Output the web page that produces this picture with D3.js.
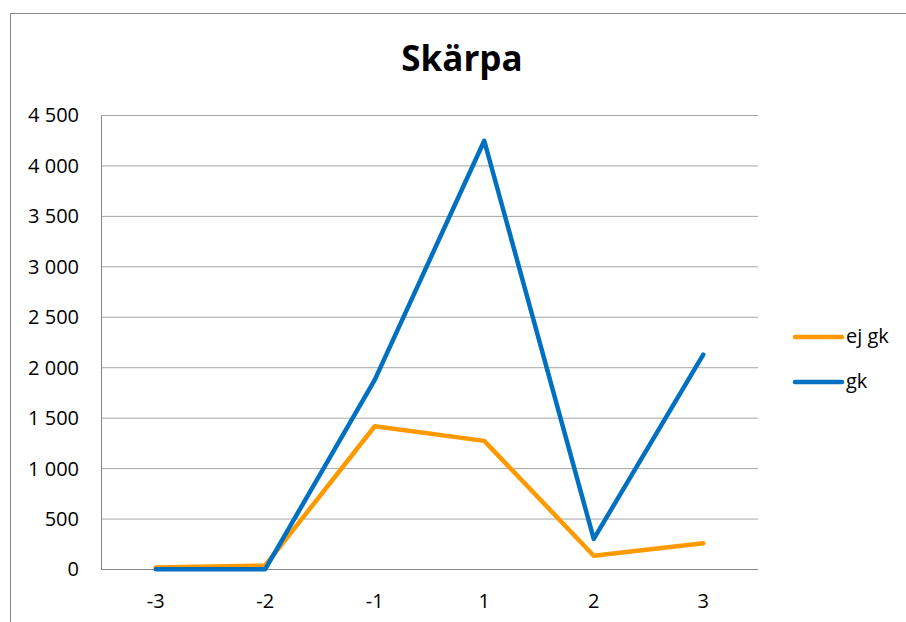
<!DOCTYPE html>
<html><head><meta charset="utf-8">
<script src="https://cdn.jsdelivr.net/npm/d3@7"></script>
<style>body{margin:0;background:#fff}svg{display:block}</style>
</head><body>
<script>
const categories = ["-3","-2","-1","1","2","3"];
const ejGk = [20, 40, 1420, 1275, 137, 260];
const gk = [3, 3, 1880, 4250, 303, 2130];
const yTicks = [0,500,1000,1500,2000,2500,3000,3500,4000,4500];
const seriesNames = ["ej gk","gk"];
const colors = ["#FF9900","#0070C0"];

const W=906,H=622;
const svg=d3.select("body").append("svg").attr("width",W).attr("height",H);
const font="'Open Sans', 'Noto Sans', sans-serif";
svg.append("rect").attr("x",10.5).attr("y",13.5).attr("width",W).attr("height",H)
  .attr("fill","none").attr("stroke","#868686").attr("stroke-width",1);

const x=d3.scaleBand().domain(categories).range([101,758]);
const y=d3.scaleLinear().domain([0,4500]).range([569.5,115.5]);
const fmt=v=>d3.format(",")(v).replace(/,/g," ");

// gridlines
svg.append("g").selectAll("line").data(yTicks.filter(d=>d>0)).join("line")
  .attr("x1",101).attr("x2",758).attr("y1",d=>y(d)).attr("y2",d=>y(d))
  .attr("stroke","#a6a6a6").attr("stroke-width",1);

const yAxis=svg.append("g").attr("transform","translate(101,0)")
  .call(d3.axisLeft(y).tickValues(yTicks).tickFormat(fmt).tickSize(0).tickPadding(22));
yAxis.select(".domain").attr("stroke","#868686");
yAxis.selectAll("text").attr("font-family",font).attr("font-size",20).attr("fill","#000");

const xAxis=svg.append("g").attr("transform","translate(0,569.5)")
  .call(d3.axisBottom(x).tickSize(0).tickPadding(24));
xAxis.select(".domain").attr("stroke","#868686").attr("d","M101,0H758");
xAxis.selectAll("text").attr("font-family",font).attr("font-size",20).attr("fill","#000");

const line=d3.line().x((d,i)=>x(categories[i])+x.bandwidth()/2).y(d=>y(d));
[ejGk,gk].forEach((s,k)=>{
  svg.append("path").datum(s).attr("d",line).attr("fill","none")
    .attr("stroke",colors[k]).attr("stroke-width",4.5)
    .attr("stroke-linejoin","round").attr("stroke-linecap","round");
});

svg.append("text").attr("x",462).attr("y",71).attr("text-anchor","middle")
  .attr("font-family",font).attr("font-weight","bold").attr("font-size",35).text("Skärpa");

const lg=svg.append("g");
seriesNames.forEach((n,k)=>{
  const yy=337+k*45;
  lg.append("line").attr("x1",795).attr("x2",842).attr("y1",yy).attr("y2",yy)
    .attr("stroke",colors[k]).attr("stroke-width",4.5).attr("stroke-linecap","round");
  lg.append("text").attr("x",846).attr("y",yy+6).attr("font-family",font)
    .attr("font-size",20).text(n);
});
</script>
</body></html>
